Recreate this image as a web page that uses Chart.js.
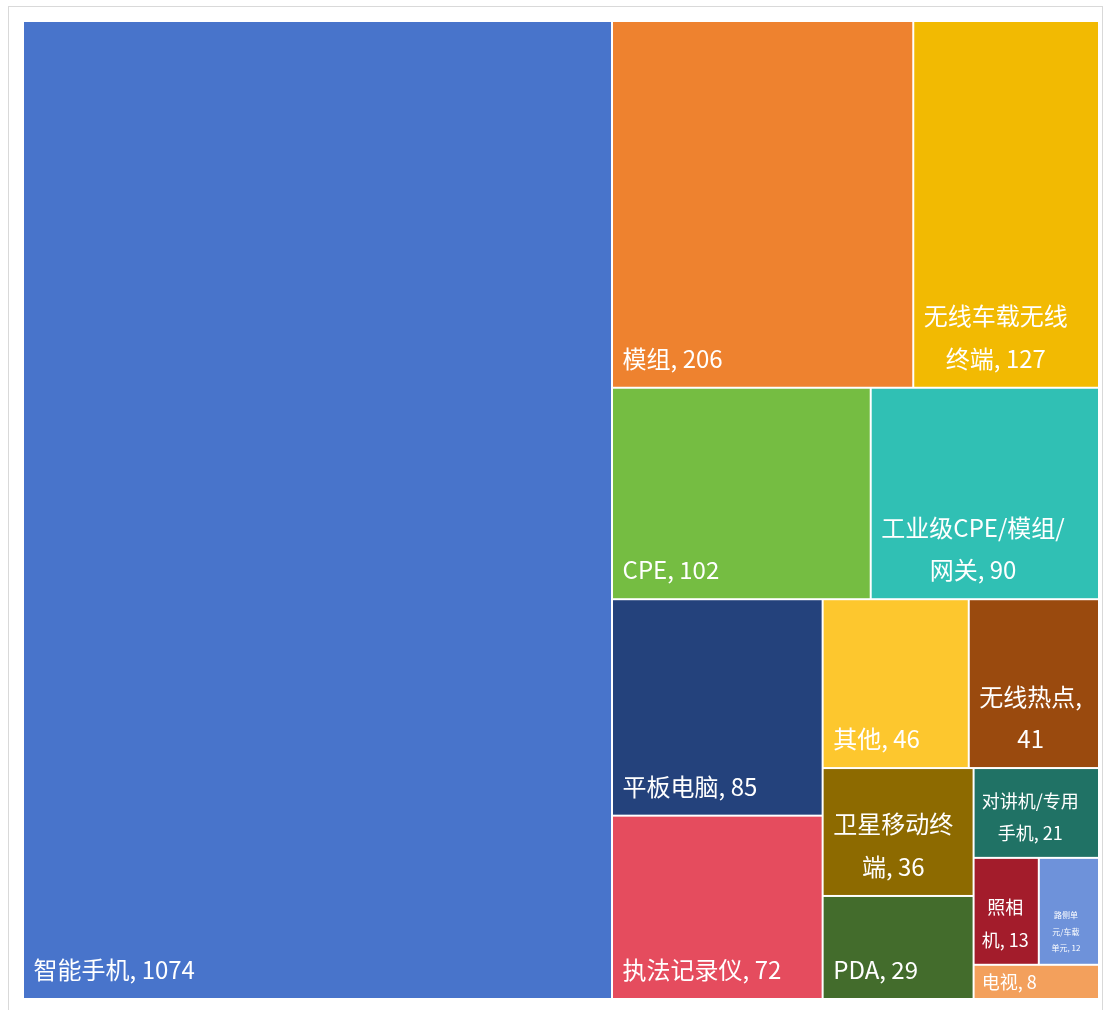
<!DOCTYPE html>
<html>
<head>
<meta charset="utf-8">
<script src="https://cdn.jsdelivr.net/npm/chart.js@4/dist/chart.umd.min.js"></script>
<style>
  html, body { margin: 0; padding: 0; background: #ffffff; }
  canvas { display: block; }
</style>
</head>
<body>
<canvas id="treemapChart" width="1105" height="1010"></canvas>
<script>
// Categories and values
const categories = ['智能手机', '模组', '无线车载无线终端', 'CPE', '工业级CPE/模组/网关', '平板电脑', '执法记录仪',
    '其他', '无线热点', '卫星移动终端', 'PDA', '对讲机/专用手机', '照相机', '路侧单元/车载单元', '电视'];
const values = [1074, 206, 127, 102, 90, 85, 72, 46, 41, 36, 29, 21, 13, 12, 8];

// Cell colours (Excel palette look)
const cellColors = ['#4874CB', '#EE822F', '#F2BA02', '#75BD42', '#30C0B4', '#24427C', '#E54C5E',
    '#FDC72E', '#9A4A0E', '#8D6A00', '#436C2C', '#207265', '#A31C2B', '#6E92DA', '#F3A05C'];

const FONT = '"Noto Sans CJK SC", "Noto Sans", sans-serif';
const fontSteps = [24, 18, 8];

// Squarified treemap layout (in pixel-proportional units)
function worst(row, side) {
    const s = row.reduce((a, b) => a + b, 0);
    const mx = Math.max(...row), mn = Math.min(...row);
    return Math.max(side * side * mx / (s * s), (s * s) / (side * side * mn));
}

function squarify(vals, rect) {
    const total = vals.reduce((a, b) => a + b, 0);
    const k = rect.w * rect.h / total;
    const areas = vals.map(v => v * k);
    const out = [];
    let r = { ...rect };
    let i = 0;
    while (i < areas.length) {
        const side = Math.min(r.w, r.h);
        let row = [areas[i]];
        let j = i + 1;
        while (j < areas.length) {
            const next = row.concat(areas[j]);
            if (worst(next, side) <= worst(row, side)) { row = next; j++; } else break;
        }
        const s = row.reduce((a, b) => a + b, 0);
        if (r.w >= r.h) {
            // column on the left
            const cw = s / r.h;
            let yy = r.y;
            row.forEach(a => { const ch = a / cw; out.push({ x: r.x, y: yy, w: cw, h: ch }); yy += ch; });
            r = { x: r.x + cw, y: r.y, w: r.w - cw, h: r.h };
        } else {
            // row on top
            const rh = s / r.w;
            let xx = r.x;
            row.forEach(a => { const cw = a / rh; out.push({ x: xx, y: r.y, w: cw, h: rh }); xx += cw; });
            r = { x: r.x, y: r.y + rh, w: r.w, h: r.h - rh };
        }
        i = j;
    }
    return out;
}

// Split a label into break-able tokens
function tokenize(text) {
    const tokens = [];
    for (const ch of text) {
        const last = tokens.length ? tokens[tokens.length - 1] : null;
        if (ch === ' ') {
            tokens.push(' ');
        } else if (/[A-Za-z0-9.]/.test(ch)) {
            if (last && last !== ' ' && /[A-Za-z0-9.]$/.test(last)) tokens[tokens.length - 1] += ch;
            else tokens.push(ch);
        } else if (/[,\/，、]/.test(ch)) {
            if (last && last !== ' ') tokens[tokens.length - 1] += ch;
            else tokens.push(ch);
        } else {
            tokens.push(ch);
        }
    }
    return tokens;
}

function wrapText(ctx, text, maxWidth) {
    const lines = [];
    let line = '';
    let space = false;
    tokenize(text).forEach(tok => {
        if (tok === ' ') { space = true; return; }
        const cand = line + (space && line ? ' ' : '') + tok;
        if (line === '' || ctx.measureText(cand).width <= maxWidth) {
            line = cand;
        } else {
            lines.push(line);
            line = tok;
        }
        space = false;
    });
    if (line) lines.push(line);
    return lines;
}

const framePlugin = {
    id: 'frame',
    beforeDraw(chart) {
        const ctx = chart.ctx;
        ctx.save();
        ctx.strokeStyle = '#d9d9d9';
        ctx.lineWidth = 1;
        ctx.strokeRect(8.5, 6.5, chart.width - 11, chart.height);
        ctx.restore();
    }
};

const treemapPlugin = {
    id: 'treemap',
    afterDatasetsDraw(chart) {
        const ctx = chart.ctx;
        const xs = chart.scales.x, ys = chart.scales.y;
        const W = chart.chartArea.width, H = chart.chartArea.height;
        const cells = squarify(values, { x: 0, y: 0, w: W, h: H });

        ctx.save();
        cells.forEach((c, i) => {
            const x0 = xs.getPixelForValue(c.x / W) + 1;
            const x1 = xs.getPixelForValue((c.x + c.w) / W) - 1;
            const y0 = ys.getPixelForValue(c.y / H) + 1;
            const y1 = ys.getPixelForValue((c.y + c.h) / H) - 1;
            const w = x1 - x0, h = y1 - y0;
            ctx.fillStyle = cellColors[i];
            ctx.fillRect(x0, y0, w, h);

            // label: "name, value", shrunk and wrapped to fit
            const text = categories[i] + ', ' + values[i];
            let fs, lines, padX, lh;
            for (let s = 0; s < fontSteps.length; s++) {
                fs = fontSteps[s];
                padX = fs >= 12 ? fs * 0.4 : w * 0.2;
                lh = fs * 1.6 + 4;
                ctx.font = fs + 'px ' + FONT;
                lines = wrapText(ctx, text, w - 2 * padX);
                const fitsW = lines.every(l => ctx.measureText(l).width <= w - 2 * padX);
                if (fitsW && (lines.length - 1) * lh + fs * 1.5 <= h) break;
            }
            const bw = Math.max(...lines.map(l => ctx.measureText(l).width));
            const cx = x0 + padX + bw / 2;
            const lastY = y1 - Math.min(lh / 2 + 7, h / 2);
            ctx.fillStyle = '#ffffff';
            ctx.textAlign = 'center';
            ctx.textBaseline = 'middle';
            lines.forEach((l, k) => {
                ctx.fillText(l, cx, lastY - (lines.length - 1 - k) * lh);
            });
        });
        ctx.restore();
    }
};

new Chart(document.getElementById('treemapChart').getContext('2d'), {
    type: 'scatter',
    data: {
        labels: categories,
        datasets: [{ label: '终端', data: [] }]
    },
    options: {
        responsive: false,
        animation: false,
        layout: { padding: { left: 23, top: 21, right: 6, bottom: 11 } },
        plugins: {
            legend: { display: false },
            tooltip: { enabled: false }
        },
        scales: {
            x: { type: 'linear', min: 0, max: 1, display: false },
            y: { type: 'linear', min: 0, max: 1, reverse: true, display: false }
        }
    },
    plugins: [framePlugin, treemapPlugin]
});
</script>
</body>
</html>
